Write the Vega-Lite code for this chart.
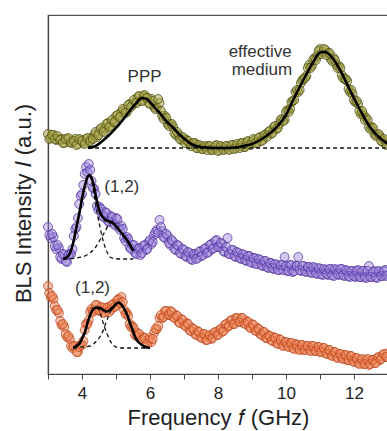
{
  "$schema": "https://vega.github.io/schema/vega-lite/v6.json",
  "autosize": {"type": "none"},
  "padding": {"left": 48, "top": 15, "right": -1, "bottom": 57},
  "width": 340,
  "height": 359,
  "config": {
    "font": "Liberation Sans",
    "view": {"stroke": "#555", "strokeWidth": 1.2},
    "axis": {"domainColor": "#444", "tickColor": "#444", "labelColor": "#222", "titleColor": "#222", "grid": false, "titleFontWeight": "normal"}
  },
  "encoding": {
    "x": {"field": "x", "type": "quantitative",
      "scale": {"domain": [3, 13], "nice": false, "zero": false},
      "axis": {"title": "Frequency 𝑓 (GHz)", "values": [3,4,5,6,7,8,9,10,11,12,13], "labelExpr": "datum.value % 2 == 0 ? datum.label : ''", "tickSize": 5, "labelPadding": 6, "labelFontSize": 17, "titleFontSize": 22, "titlePadding": 6, "domainWidth": 1.2}},
    "y": {"field": "y", "type": "quantitative",
      "scale": {"domain": [-1, 358], "nice": false, "zero": false},
      "axis": {"title": "BLS Intensity 𝐼 (a.u.)", "ticks": false, "labels": false, "titleFontSize": 22, "titlePadding": 13, "titleY": 188, "domainWidth": 1.2}}
  },
  "layer": [
    {
      "data": {"values": [
{"x":3.00,"y":239},{"x":3.08,"y":235},{"x":3.16,"y":238},{"x":3.24,"y":233},{"x":3.32,"y":234},{"x":3.40,"y":234},{"x":3.48,"y":230},{"x":3.56,"y":234},{"x":3.64,"y":231},{"x":3.72,"y":231},{"x":3.80,"y":234},{"x":3.88,"y":229},{"x":3.96,"y":233},{"x":4.04,"y":230},{"x":4.12,"y":234},{"x":4.20,"y":231},{"x":4.28,"y":235},{"x":4.36,"y":238},{"x":4.44,"y":236},{"x":4.52,"y":243},{"x":4.60,"y":242},{"x":4.68,"y":245},{"x":4.76,"y":250},{"x":4.84,"y":247},{"x":4.92,"y":251},{"x":5.00,"y":257},{"x":5.08,"y":255},{"x":5.16,"y":261},{"x":5.24,"y":263},{"x":5.32,"y":261},{"x":5.40,"y":269},{"x":5.48,"y":268},{"x":5.56,"y":271},{"x":5.64,"y":276},{"x":5.72,"y":272},{"x":5.80,"y":277},{"x":5.88,"y":276},{"x":5.96,"y":270},{"x":6.04,"y":274},{"x":6.12,"y":266},{"x":6.20,"y":265},{"x":6.28,"y":270},{"x":6.36,"y":257},{"x":6.44,"y":257},{"x":6.52,"y":249},{"x":6.60,"y":249},{"x":6.68,"y":246},{"x":6.76,"y":238},{"x":6.84,"y":238},{"x":6.92,"y":233},{"x":7.00,"y":234},{"x":7.08,"y":233},{"x":7.16,"y":229},{"x":7.24,"y":229},{"x":7.32,"y":230},{"x":7.40,"y":225},{"x":7.48,"y":227},{"x":7.56,"y":224},{"x":7.64,"y":226},{"x":7.72,"y":227},{"x":7.80,"y":223},{"x":7.88,"y":225},{"x":7.96,"y":228},{"x":8.04,"y":223},{"x":8.12,"y":226},{"x":8.20,"y":224},{"x":8.28,"y":227},{"x":8.36,"y":224},{"x":8.44,"y":228},{"x":8.52,"y":225},{"x":8.60,"y":227},{"x":8.68,"y":230},{"x":8.76,"y":226},{"x":8.84,"y":231},{"x":8.92,"y":229},{"x":9.00,"y":231},{"x":9.08,"y":233},{"x":9.16,"y":230},{"x":9.24,"y":236},{"x":9.32,"y":233},{"x":9.40,"y":238},{"x":9.48,"y":241},{"x":9.56,"y":239},{"x":9.64,"y":246},{"x":9.72,"y":244},{"x":9.80,"y":249},{"x":9.88,"y":254},{"x":9.96,"y":253},{"x":10.04,"y":263},{"x":10.12,"y":264},{"x":10.20,"y":272},{"x":10.28,"y":281},{"x":10.36,"y":281},{"x":10.44,"y":290},{"x":10.52,"y":294},{"x":10.60,"y":297},{"x":10.68,"y":308},{"x":10.76,"y":307},{"x":10.84,"y":315},{"x":10.92,"y":317},{"x":11.00,"y":324},{"x":11.08,"y":321},{"x":11.16,"y":323},{"x":11.24,"y":320},{"x":11.32,"y":314},{"x":11.40,"y":315},{"x":11.48,"y":308},{"x":11.56,"y":307},{"x":11.64,"y":298},{"x":11.72,"y":294},{"x":11.80,"y":292},{"x":11.88,"y":281},{"x":11.96,"y":279},{"x":12.04,"y":271},{"x":12.12,"y":269},{"x":12.20,"y":259},{"x":12.28,"y":258},{"x":12.36,"y":255},{"x":12.44,"y":246},{"x":12.52,"y":246},{"x":12.60,"y":239},{"x":12.68,"y":238},{"x":12.76,"y":237},{"x":12.84,"y":231},{"x":12.92,"y":232},{"x":13.00,"y":231},
{"x":3.04,"y":234},{"x":3.12,"y":238},{"x":3.20,"y":234},{"x":3.28,"y":237},{"x":3.36,"y":233},{"x":3.44,"y":230},{"x":3.52,"y":234},{"x":3.60,"y":235},{"x":3.68,"y":230},{"x":3.76,"y":232},{"x":3.84,"y":228},{"x":3.92,"y":234},{"x":4.00,"y":232},{"x":4.08,"y":229},{"x":4.16,"y":235},{"x":4.24,"y":232},{"x":4.32,"y":234},{"x":4.40,"y":241},{"x":4.48,"y":238},{"x":4.56,"y":245},{"x":4.64,"y":241},{"x":4.72,"y":249},{"x":4.80,"y":246},{"x":4.88,"y":253},{"x":4.96,"y":251},{"x":5.04,"y":258},{"x":5.12,"y":256},{"x":5.20,"y":264},{"x":5.28,"y":260},{"x":5.36,"y":268},{"x":5.44,"y":266},{"x":5.52,"y":273},{"x":5.60,"y":270},{"x":5.68,"y":277},{"x":5.76,"y":272},{"x":5.84,"y":278},{"x":5.92,"y":275},{"x":6.00,"y":269},{"x":6.08,"y":272},{"x":6.16,"y":264},{"x":6.24,"y":274},{"x":6.32,"y":262},{"x":6.40,"y":254},{"x":6.48,"y":255},{"x":6.56,"y":247},{"x":6.64,"y":249},{"x":6.72,"y":240},{"x":6.80,"y":241},{"x":6.88,"y":234},{"x":6.96,"y":236},{"x":7.04,"y":230},{"x":7.12,"y":232},{"x":7.20,"y":227},{"x":7.28,"y":230},{"x":7.36,"y":225},{"x":7.44,"y":228},{"x":7.52,"y":224},{"x":7.60,"y":227},{"x":7.68,"y":223},{"x":7.76,"y":227},{"x":7.84,"y":223},{"x":7.92,"y":227},{"x":8.00,"y":222},{"x":8.08,"y":227},{"x":8.16,"y":223},{"x":8.24,"y":227},{"x":8.32,"y":223},{"x":8.40,"y":228},{"x":8.48,"y":224},{"x":8.56,"y":229},{"x":8.64,"y":225},{"x":8.72,"y":230},{"x":8.80,"y":226},{"x":8.88,"y":232},{"x":8.96,"y":228},{"x":9.04,"y":234},{"x":9.12,"y":230},{"x":9.20,"y":235},{"x":9.28,"y":232},{"x":9.36,"y":238},{"x":9.44,"y":236},{"x":9.52,"y":242},{"x":9.60,"y":240},{"x":9.68,"y":247},{"x":9.76,"y":245},{"x":9.84,"y":253},{"x":9.92,"y":252},{"x":10.00,"y":261},{"x":10.08,"y":261},{"x":10.16,"y":271},{"x":10.24,"y":273},{"x":10.32,"y":283},{"x":10.40,"y":283},{"x":10.48,"y":293},{"x":10.56,"y":295},{"x":10.64,"y":305},{"x":10.72,"y":305},{"x":10.80,"y":313},{"x":10.88,"y":313},{"x":10.96,"y":322},{"x":11.04,"y":319},{"x":11.12,"y":324},{"x":11.20,"y":318},{"x":11.28,"y":320},{"x":11.36,"y":312},{"x":11.44,"y":313},{"x":11.52,"y":305},{"x":11.60,"y":305},{"x":11.68,"y":295},{"x":11.76,"y":294},{"x":11.84,"y":284},{"x":11.92,"y":283},{"x":12.00,"y":273},{"x":12.08,"y":272},{"x":12.16,"y":262},{"x":12.24,"y":262},{"x":12.32,"y":253},{"x":12.40,"y":253},{"x":12.48,"y":244},{"x":12.56,"y":245},{"x":12.64,"y":237},{"x":12.72,"y":239},{"x":12.80,"y":232},{"x":12.88,"y":234},{"x":12.96,"y":228}
      ]},
      "mark": {"type": "circle", "size": 80, "fill": "#a9a84c", "fillOpacity": 0.55, "stroke": "#4c4c0e", "strokeWidth": 0.9, "strokeOpacity": 0.85}
    },
    {
      "data": {"values": [
{"x":3.00,"y":146},{"x":3.08,"y":135},{"x":3.16,"y":136},{"x":3.24,"y":124},{"x":3.32,"y":125},{"x":3.40,"y":114},{"x":3.48,"y":118},{"x":3.56,"y":111},{"x":3.64,"y":119},{"x":3.72,"y":124},{"x":3.80,"y":144},{"x":3.88,"y":155},{"x":3.96,"y":177},{"x":4.04,"y":188},{"x":4.12,"y":206},{"x":4.20,"y":209},{"x":4.28,"y":192},{"x":4.36,"y":184},{"x":4.44,"y":167},{"x":4.52,"y":166},{"x":4.60,"y":157},{"x":4.68,"y":161},{"x":4.76,"y":152},{"x":4.84,"y":157},{"x":4.92,"y":150},{"x":5.00,"y":155},{"x":5.08,"y":146},{"x":5.16,"y":147},{"x":5.24,"y":135},{"x":5.32,"y":136},{"x":5.40,"y":126},{"x":5.48,"y":128},{"x":5.56,"y":120},{"x":5.64,"y":124},{"x":5.72,"y":118},{"x":5.80,"y":127},{"x":5.88,"y":123},{"x":5.96,"y":131},{"x":6.04,"y":129},{"x":6.12,"y":138},{"x":6.20,"y":143},{"x":6.28,"y":153},{"x":6.36,"y":142},{"x":6.44,"y":135},{"x":6.52,"y":137},{"x":6.60,"y":128},{"x":6.68,"y":131},{"x":6.76,"y":123},{"x":6.84,"y":127},{"x":6.92,"y":119},{"x":7.00,"y":123},{"x":7.08,"y":116},{"x":7.16,"y":120},{"x":7.24,"y":113},{"x":7.32,"y":119},{"x":7.40,"y":115},{"x":7.48,"y":122},{"x":7.56,"y":118},{"x":7.64,"y":125},{"x":7.72,"y":121},{"x":7.80,"y":129},{"x":7.88,"y":125},{"x":7.96,"y":133},{"x":8.04,"y":126},{"x":8.12,"y":129},{"x":8.20,"y":121},{"x":8.28,"y":135},{"x":8.36,"y":119},{"x":8.44,"y":123},{"x":8.52,"y":116},{"x":8.60,"y":120},{"x":8.68,"y":114},{"x":8.76,"y":118},{"x":8.84,"y":112},{"x":8.92,"y":117},{"x":9.00,"y":110},{"x":9.08,"y":115},{"x":9.16,"y":109},{"x":9.24,"y":113},{"x":9.32,"y":107},{"x":9.40,"y":112},{"x":9.48,"y":105},{"x":9.56,"y":110},{"x":9.64,"y":104},{"x":9.72,"y":108},{"x":9.80,"y":103},{"x":9.88,"y":108},{"x":9.96,"y":116},{"x":10.04,"y":102},{"x":10.12,"y":108},{"x":10.20,"y":101},{"x":10.28,"y":107},{"x":10.36,"y":116},{"x":10.44,"y":102},{"x":10.52,"y":107},{"x":10.60,"y":101},{"x":10.68,"y":106},{"x":10.76,"y":100},{"x":10.84,"y":105},{"x":10.92,"y":99},{"x":11.00,"y":104},{"x":11.08,"y":98},{"x":11.16,"y":103},{"x":11.24,"y":98},{"x":11.32,"y":104},{"x":11.40,"y":97},{"x":11.48,"y":103},{"x":11.56,"y":98},{"x":11.64,"y":104},{"x":11.72,"y":97},{"x":11.80,"y":102},{"x":11.88,"y":96},{"x":11.96,"y":102},{"x":12.04,"y":96},{"x":12.12,"y":103},{"x":12.20,"y":96},{"x":12.28,"y":102},{"x":12.36,"y":95},{"x":12.44,"y":107},{"x":12.52,"y":96},{"x":12.60,"y":102},{"x":12.68,"y":95},{"x":12.76,"y":101},{"x":12.84,"y":97},{"x":12.92,"y":103},{"x":13.00,"y":98},
{"x":3.04,"y":138},{"x":3.12,"y":139},{"x":3.20,"y":127},{"x":3.28,"y":128},{"x":3.36,"y":116},{"x":3.44,"y":119},{"x":3.52,"y":112},{"x":3.60,"y":118},{"x":3.68,"y":119},{"x":3.76,"y":137},{"x":3.84,"y":146},{"x":3.92,"y":169},{"x":4.00,"y":179},{"x":4.08,"y":199},{"x":4.16,"y":201},{"x":4.24,"y":203},{"x":4.32,"y":185},{"x":4.40,"y":179},{"x":4.48,"y":163},{"x":4.56,"y":164},{"x":4.64,"y":156},{"x":4.72,"y":160},{"x":4.80,"y":151},{"x":4.88,"y":156},{"x":4.96,"y":148},{"x":5.04,"y":154},{"x":5.12,"y":143},{"x":5.20,"y":144},{"x":5.28,"y":132},{"x":5.36,"y":134},{"x":5.44,"y":124},{"x":5.52,"y":128},{"x":5.60,"y":119},{"x":5.68,"y":125},{"x":5.76,"y":120},{"x":5.84,"y":128},{"x":5.92,"y":124},{"x":6.00,"y":133},{"x":6.08,"y":131},{"x":6.16,"y":141},{"x":6.24,"y":140},{"x":6.32,"y":146},{"x":6.40,"y":136},{"x":6.48,"y":139},{"x":6.56,"y":130},{"x":6.64,"y":133},{"x":6.72,"y":124},{"x":6.80,"y":128},{"x":6.88,"y":120},{"x":6.96,"y":124},{"x":7.04,"y":117},{"x":7.12,"y":121},{"x":7.20,"y":114},{"x":7.28,"y":119},{"x":7.36,"y":114},{"x":7.44,"y":121},{"x":7.52,"y":117},{"x":7.60,"y":124},{"x":7.68,"y":120},{"x":7.76,"y":128},{"x":7.84,"y":124},{"x":7.92,"y":132},{"x":8.00,"y":126},{"x":8.08,"y":130},{"x":8.16,"y":122},{"x":8.24,"y":126},{"x":8.32,"y":119},{"x":8.40,"y":123},{"x":8.48,"y":117},{"x":8.56,"y":121},{"x":8.64,"y":115},{"x":8.72,"y":119},{"x":8.80,"y":113},{"x":8.88,"y":117},{"x":8.96,"y":111},{"x":9.04,"y":115},{"x":9.12,"y":109},{"x":9.20,"y":114},{"x":9.28,"y":108},{"x":9.36,"y":112},{"x":9.44,"y":106},{"x":9.52,"y":110},{"x":9.60,"y":105},{"x":9.68,"y":109},{"x":9.76,"y":103},{"x":9.84,"y":108},{"x":9.92,"y":103},{"x":10.00,"y":107},{"x":10.08,"y":102},{"x":10.16,"y":108},{"x":10.24,"y":102},{"x":10.32,"y":107},{"x":10.40,"y":103},{"x":10.48,"y":107},{"x":10.56,"y":102},{"x":10.64,"y":106},{"x":10.72,"y":101},{"x":10.80,"y":106},{"x":10.88,"y":100},{"x":10.96,"y":105},{"x":11.04,"y":99},{"x":11.12,"y":104},{"x":11.20,"y":99},{"x":11.28,"y":104},{"x":11.36,"y":98},{"x":11.44,"y":104},{"x":11.52,"y":99},{"x":11.60,"y":104},{"x":11.68,"y":98},{"x":11.76,"y":103},{"x":11.84,"y":97},{"x":11.92,"y":102},{"x":12.00,"y":97},{"x":12.08,"y":102},{"x":12.16,"y":96},{"x":12.24,"y":102},{"x":12.32,"y":96},{"x":12.40,"y":102},{"x":12.48,"y":96},{"x":12.56,"y":101},{"x":12.64,"y":96},{"x":12.72,"y":102},{"x":12.80,"y":97},{"x":12.88,"y":102},{"x":12.96,"y":97}
      ]},
      "mark": {"type": "circle", "size": 80, "fill": "#9e86de", "fillOpacity": 0.45, "stroke": "#4a2a96", "strokeWidth": 0.9, "strokeOpacity": 0.8}
    },
    {
      "data": {"values": [
{"x":3.00,"y":87},{"x":3.08,"y":76},{"x":3.16,"y":74},{"x":3.24,"y":63},{"x":3.32,"y":60},{"x":3.40,"y":48},{"x":3.48,"y":46},{"x":3.56,"y":36},{"x":3.64,"y":34},{"x":3.72,"y":25},{"x":3.80,"y":27},{"x":3.88,"y":21},{"x":3.96,"y":28},{"x":4.04,"y":32},{"x":4.12,"y":49},{"x":4.20,"y":53},{"x":4.28,"y":64},{"x":4.36,"y":63},{"x":4.44,"y":68},{"x":4.52,"y":62},{"x":4.60,"y":65},{"x":4.68,"y":61},{"x":4.76,"y":66},{"x":4.84,"y":63},{"x":4.92,"y":69},{"x":5.00,"y":67},{"x":5.08,"y":74},{"x":5.16,"y":76},{"x":5.24,"y":63},{"x":5.32,"y":60},{"x":5.40,"y":49},{"x":5.48,"y":47},{"x":5.56,"y":38},{"x":5.64,"y":40},{"x":5.72,"y":34},{"x":5.80,"y":36},{"x":5.88,"y":30},{"x":5.96,"y":33},{"x":6.04,"y":31},{"x":6.12,"y":40},{"x":6.20,"y":44},{"x":6.28,"y":55},{"x":6.36,"y":55},{"x":6.44,"y":62},{"x":6.52,"y":58},{"x":6.60,"y":62},{"x":6.68,"y":56},{"x":6.76,"y":58},{"x":6.84,"y":51},{"x":6.92,"y":54},{"x":7.00,"y":48},{"x":7.08,"y":50},{"x":7.16,"y":43},{"x":7.24,"y":45},{"x":7.32,"y":39},{"x":7.40,"y":42},{"x":7.48,"y":36},{"x":7.56,"y":39},{"x":7.64,"y":33},{"x":7.72,"y":37},{"x":7.80,"y":34},{"x":7.88,"y":40},{"x":7.96,"y":38},{"x":8.04,"y":43},{"x":8.12,"y":41},{"x":8.20,"y":48},{"x":8.28,"y":46},{"x":8.36,"y":52},{"x":8.44,"y":49},{"x":8.52,"y":55},{"x":8.60,"y":51},{"x":8.68,"y":55},{"x":8.76,"y":50},{"x":8.84,"y":52},{"x":8.92,"y":46},{"x":9.00,"y":49},{"x":9.08,"y":43},{"x":9.16,"y":45},{"x":9.24,"y":39},{"x":9.32,"y":41},{"x":9.40,"y":35},{"x":9.48,"y":38},{"x":9.56,"y":33},{"x":9.64,"y":36},{"x":9.72,"y":30},{"x":9.80,"y":34},{"x":9.88,"y":28},{"x":9.96,"y":31},{"x":10.04,"y":27},{"x":10.12,"y":30},{"x":10.20,"y":25},{"x":10.28,"y":29},{"x":10.36,"y":24},{"x":10.44,"y":28},{"x":10.52,"y":23},{"x":10.60,"y":27},{"x":10.68,"y":23},{"x":10.76,"y":27},{"x":10.84,"y":22},{"x":10.92,"y":26},{"x":11.00,"y":21},{"x":11.08,"y":25},{"x":11.16,"y":20},{"x":11.24,"y":23},{"x":11.32,"y":18},{"x":11.40,"y":21},{"x":11.48,"y":16},{"x":11.56,"y":19},{"x":11.64,"y":15},{"x":11.72,"y":18},{"x":11.80,"y":13},{"x":11.88,"y":17},{"x":11.96,"y":12},{"x":12.04,"y":15},{"x":12.12,"y":10},{"x":12.20,"y":13},{"x":12.28,"y":9},{"x":12.36,"y":13},{"x":12.44,"y":8},{"x":12.52,"y":13},{"x":12.60,"y":10},{"x":12.68,"y":15},{"x":12.76,"y":13},{"x":12.84,"y":18},{"x":12.92,"y":16},{"x":13.00,"y":20},
{"x":3.04,"y":80},{"x":3.12,"y":77},{"x":3.20,"y":67},{"x":3.28,"y":63},{"x":3.36,"y":52},{"x":3.44,"y":49},{"x":3.52,"y":39},{"x":3.60,"y":37},{"x":3.68,"y":27},{"x":3.76,"y":27},{"x":3.84,"y":21},{"x":3.92,"y":26},{"x":4.00,"y":28},{"x":4.08,"y":43},{"x":4.16,"y":49},{"x":4.24,"y":61},{"x":4.32,"y":61},{"x":4.40,"y":68},{"x":4.48,"y":63},{"x":4.56,"y":66},{"x":4.64,"y":60},{"x":4.72,"y":65},{"x":4.80,"y":61},{"x":4.88,"y":68},{"x":4.96,"y":66},{"x":5.04,"y":73},{"x":5.12,"y":70},{"x":5.20,"y":71},{"x":5.28,"y":59},{"x":5.36,"y":57},{"x":5.44,"y":46},{"x":5.52,"y":45},{"x":5.60,"y":37},{"x":5.68,"y":39},{"x":5.76,"y":33},{"x":5.84,"y":35},{"x":5.92,"y":29},{"x":6.00,"y":35},{"x":6.08,"y":34},{"x":6.16,"y":44},{"x":6.24,"y":47},{"x":6.32,"y":58},{"x":6.40,"y":56},{"x":6.48,"y":62},{"x":6.56,"y":58},{"x":6.64,"y":61},{"x":6.72,"y":55},{"x":6.80,"y":57},{"x":6.88,"y":50},{"x":6.96,"y":53},{"x":7.04,"y":47},{"x":7.12,"y":49},{"x":7.20,"y":42},{"x":7.28,"y":44},{"x":7.36,"y":38},{"x":7.44,"y":41},{"x":7.52,"y":35},{"x":7.60,"y":39},{"x":7.68,"y":33},{"x":7.76,"y":38},{"x":7.84,"y":35},{"x":7.92,"y":41},{"x":8.00,"y":38},{"x":8.08,"y":44},{"x":8.16,"y":42},{"x":8.24,"y":49},{"x":8.32,"y":47},{"x":8.40,"y":53},{"x":8.48,"y":49},{"x":8.56,"y":55},{"x":8.64,"y":51},{"x":8.72,"y":55},{"x":8.80,"y":49},{"x":8.88,"y":51},{"x":8.96,"y":45},{"x":9.04,"y":48},{"x":9.12,"y":42},{"x":9.20,"y":44},{"x":9.28,"y":38},{"x":9.36,"y":41},{"x":9.44,"y":35},{"x":9.52,"y":37},{"x":9.60,"y":32},{"x":9.68,"y":35},{"x":9.76,"y":29},{"x":9.84,"y":33},{"x":9.92,"y":27},{"x":10.00,"y":31},{"x":10.08,"y":26},{"x":10.16,"y":30},{"x":10.24,"y":24},{"x":10.32,"y":28},{"x":10.40,"y":23},{"x":10.48,"y":28},{"x":10.56,"y":23},{"x":10.64,"y":27},{"x":10.72,"y":22},{"x":10.80,"y":27},{"x":10.88,"y":22},{"x":10.96,"y":26},{"x":11.04,"y":21},{"x":11.12,"y":25},{"x":11.20,"y":19},{"x":11.28,"y":23},{"x":11.36,"y":17},{"x":11.44,"y":21},{"x":11.52,"y":15},{"x":11.60,"y":19},{"x":11.68,"y":14},{"x":11.76,"y":18},{"x":11.84,"y":13},{"x":11.92,"y":17},{"x":12.00,"y":11},{"x":12.08,"y":15},{"x":12.16,"y":9},{"x":12.24,"y":14},{"x":12.32,"y":9},{"x":12.40,"y":14},{"x":12.48,"y":9},{"x":12.56,"y":13},{"x":12.64,"y":10},{"x":12.72,"y":16},{"x":12.80,"y":14},{"x":12.88,"y":19},{"x":12.96,"y":16}
      ]},
      "mark": {"type": "circle", "size": 80, "fill": "#ef8a5e", "fillOpacity": 0.5, "stroke": "#b83c10", "strokeWidth": 0.9, "strokeOpacity": 0.8}
    },
    {
      "data": {"values": [
{"c":"tb","x":4.18,"y":225},{"c":"tb","x":13.0,"y":225},
{"c":"p1","x":3.45,"y":114},{"c":"p1","x":3.6,"y":117},{"c":"p1","x":3.74,"y":130},{"c":"p1","x":3.85,"y":148},{"c":"p1","x":3.94,"y":163},{"c":"p1","x":4.02,"y":178},{"c":"p1","x":4.09,"y":188},{"c":"p1","x":4.16,"y":196},{"c":"p1","x":4.22,"y":198},{"c":"p1","x":4.28,"y":193},{"c":"p1","x":4.38,"y":173},{"c":"p1","x":4.46,"y":157},{"c":"p1","x":4.53,"y":146},{"c":"p1","x":4.60,"y":135},{"c":"p1","x":4.68,"y":126},{"c":"p1","x":4.75,"y":120},{"c":"p1","x":4.82,"y":116},{"c":"p1","x":4.95,"y":114.5},{"c":"p1","x":5.12,"y":114},{"c":"p1","x":5.51,"y":114},
{"c":"p2","x":3.45,"y":114},{"c":"p2","x":3.84,"y":115},{"c":"p2","x":4.14,"y":118},{"c":"p2","x":4.38,"y":125},{"c":"p2","x":4.58,"y":136},{"c":"p2","x":4.70,"y":143},{"c":"p2","x":4.77,"y":148},{"c":"p2","x":4.85,"y":151},{"c":"p2","x":4.92,"y":151.5},{"c":"p2","x":5.02,"y":146},{"c":"p2","x":5.14,"y":141},{"c":"p2","x":5.26,"y":136},{"c":"p2","x":5.38,"y":130},{"c":"p2","x":5.51,"y":122},
{"c":"o1","x":3.74,"y":25},{"c":"o1","x":3.84,"y":27},{"c":"o1","x":3.94,"y":30},{"c":"o1","x":4.02,"y":36},{"c":"o1","x":4.09,"y":41},{"c":"o1","x":4.16,"y":50},{"c":"o1","x":4.24,"y":58},{"c":"o1","x":4.31,"y":63},{"c":"o1","x":4.38,"y":65},{"c":"o1","x":4.45,"y":65},{"c":"o1","x":4.52,"y":62},{"c":"o1","x":4.58,"y":55},{"c":"o1","x":4.65,"y":47},{"c":"o1","x":4.73,"y":40},{"c":"o1","x":4.80,"y":34},{"c":"o1","x":4.87,"y":30},{"c":"o1","x":4.95,"y":27},{"c":"o1","x":5.12,"y":25},{"c":"o1","x":6.0,"y":25},
{"c":"o2","x":3.74,"y":25},{"c":"o2","x":4.0,"y":26},{"c":"o2","x":4.24,"y":27},{"c":"o2","x":4.40,"y":31},{"c":"o2","x":4.48,"y":34},{"c":"o2","x":4.56,"y":38},{"c":"o2","x":4.63,"y":43},{"c":"o2","x":4.70,"y":50},{"c":"o2","x":4.77,"y":56},{"c":"o2","x":4.85,"y":62},{"c":"o2","x":4.92,"y":66},{"c":"o2","x":5.0,"y":69},{"c":"o2","x":5.09,"y":70.5},{"c":"o2","x":5.17,"y":68},{"c":"o2","x":5.26,"y":63},{"c":"o2","x":5.34,"y":57},{"c":"o2","x":5.41,"y":50},{"c":"o2","x":5.49,"y":43},{"c":"o2","x":5.56,"y":36},{"c":"o2","x":5.66,"y":31},{"c":"o2","x":5.76,"y":28},{"c":"o2","x":5.88,"y":26},{"c":"o2","x":6.0,"y":25}
      ]},
      "mark": {"type": "line", "color": "#111", "strokeWidth": 1.3, "strokeDash": [4, 3], "interpolate": "monotone"},
      "encoding": {"detail": {"field": "c", "type": "nominal"}}
    },
    {
      "data": {"values": [
{"c":"t","x":4.18,"y":225},{"c":"t","x":4.4,"y":227},{"c":"t","x":4.6,"y":232},{"c":"t","x":4.8,"y":238},{"c":"t","x":5.0,"y":245},{"c":"t","x":5.2,"y":253},{"c":"t","x":5.4,"y":262},{"c":"t","x":5.6,"y":270},{"c":"t","x":5.76,"y":275},{"c":"t","x":5.9,"y":274},{"c":"t","x":6.0,"y":271},{"c":"t","x":6.15,"y":265},{"c":"t","x":6.29,"y":260},{"c":"t","x":6.5,"y":251},{"c":"t","x":6.69,"y":245},{"c":"t","x":6.85,"y":239},{"c":"t","x":6.98,"y":235},{"c":"t","x":7.27,"y":228},{"c":"t","x":7.6,"y":225.5},{"c":"t","x":8.0,"y":225},{"c":"t","x":8.5,"y":225.5},{"c":"t","x":8.74,"y":227},{"c":"t","x":9.0,"y":229},{"c":"t","x":9.24,"y":233},{"c":"t","x":9.5,"y":239},{"c":"t","x":9.73,"y":246},{"c":"t","x":10.0,"y":258},{"c":"t","x":10.21,"y":273},{"c":"t","x":10.51,"y":293},{"c":"t","x":10.8,"y":311},{"c":"t","x":10.95,"y":319},{"c":"t","x":11.05,"y":321},{"c":"t","x":11.15,"y":321},{"c":"t","x":11.29,"y":318},{"c":"t","x":11.45,"y":311},{"c":"t","x":11.59,"y":303},{"c":"t","x":11.88,"y":283},{"c":"t","x":12.18,"y":263},{"c":"t","x":12.47,"y":246},{"c":"t","x":12.76,"y":235},{"c":"t","x":12.96,"y":230},{"c":"t","x":13.0,"y":229},
{"c":"p","x":3.45,"y":114},{"c":"p","x":3.6,"y":117},{"c":"p","x":3.74,"y":130},{"c":"p","x":3.85,"y":148},{"c":"p","x":3.94,"y":163},{"c":"p","x":4.02,"y":178},{"c":"p","x":4.09,"y":188},{"c":"p","x":4.16,"y":196},{"c":"p","x":4.22,"y":198},{"c":"p","x":4.28,"y":195},{"c":"p","x":4.33,"y":190},{"c":"p","x":4.40,"y":178},{"c":"p","x":4.48,"y":166},{"c":"p","x":4.55,"y":159},{"c":"p","x":4.63,"y":155},{"c":"p","x":4.72,"y":152.5},{"c":"p","x":4.82,"y":151.5},{"c":"p","x":4.92,"y":149.5},{"c":"p","x":5.02,"y":146},{"c":"p","x":5.14,"y":141},{"c":"p","x":5.26,"y":136},{"c":"p","x":5.38,"y":130},{"c":"p","x":5.51,"y":122},
{"c":"o","x":3.74,"y":25},{"c":"o","x":3.84,"y":27},{"c":"o","x":3.94,"y":30},{"c":"o","x":4.02,"y":36},{"c":"o","x":4.09,"y":41},{"c":"o","x":4.16,"y":50},{"c":"o","x":4.24,"y":58},{"c":"o","x":4.31,"y":63},{"c":"o","x":4.38,"y":65},{"c":"o","x":4.45,"y":65.5},{"c":"o","x":4.53,"y":65},{"c":"o","x":4.63,"y":63},{"c":"o","x":4.73,"y":61.5},{"c":"o","x":4.82,"y":63},{"c":"o","x":4.92,"y":66},{"c":"o","x":5.0,"y":69},{"c":"o","x":5.09,"y":70.5},{"c":"o","x":5.17,"y":68},{"c":"o","x":5.26,"y":63},{"c":"o","x":5.34,"y":57},{"c":"o","x":5.41,"y":50},{"c":"o","x":5.49,"y":43},{"c":"o","x":5.56,"y":36},{"c":"o","x":5.66,"y":31},{"c":"o","x":5.76,"y":28},{"c":"o","x":5.88,"y":26},{"c":"o","x":6.0,"y":25}
      ]},
      "mark": {"type": "line", "color": "#000", "strokeWidth": 2.6, "interpolate": "monotone"},
      "encoding": {"detail": {"field": "c", "type": "nominal"}}
    },
    {
      "data": {"values": [
{"x":5.84,"y":296,"t":"PPP"},{"x":9.24,"y":321,"t":"effective"},{"x":9.29,"y":303,"t":"medium"},{"x":5.17,"y":186,"t":"(1,2)"},{"x":4.31,"y":85.5,"t":"(1,2)"}
      ]},
      "mark": {"type": "text", "fontSize": 17, "color": "#333", "align": "center", "baseline": "middle"},
      "encoding": {"text": {"field": "t", "type": "nominal"}}
    }
  ]
}
